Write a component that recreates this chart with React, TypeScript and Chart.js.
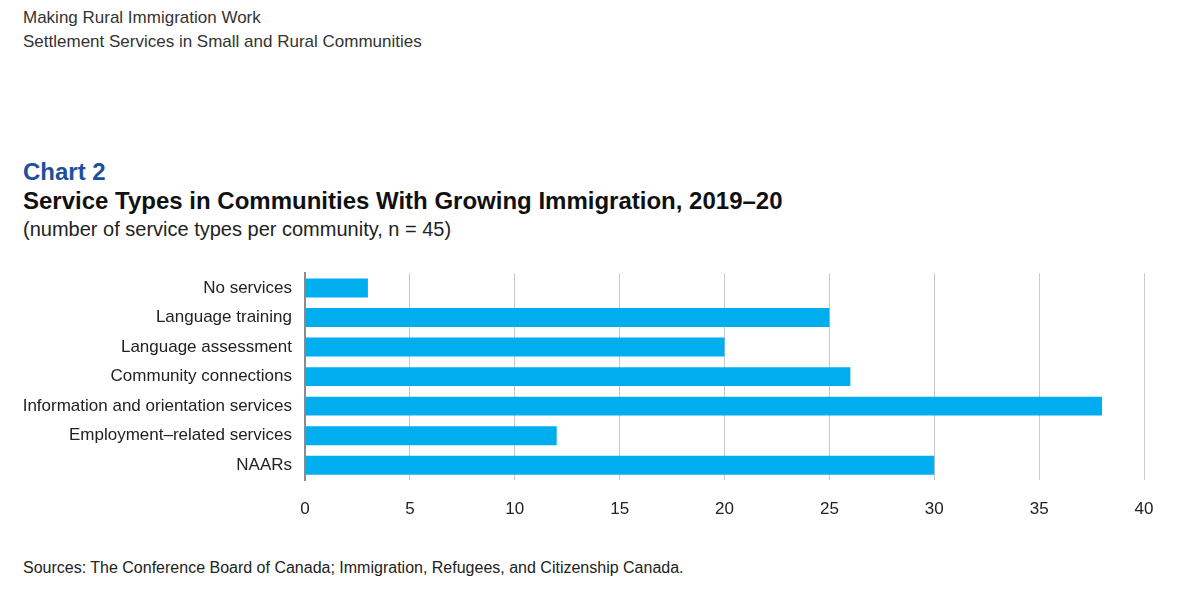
import React, { useEffect, useRef } from "react";
import { Chart, registerables } from "chart.js";

Chart.register(...registerables);

// Service types and the number of communities offering each
const categories: string[] = [
  "No services",
  "Language training",
  "Language assessment",
  "Community connections",
  "Information and orientation services",
  "Employment\u2013related services",
  "NAARs",
];
const communityCounts: number[] = [3, 25, 20, 26, 38, 12, 30];
const xTickValues: number[] = [0, 5, 10, 15, 20, 25, 30, 35, 40];

const FONT = '"Liberation Sans", Arial, Helvetica, sans-serif';

export default function App() {
  const canvasRef = useRef<HTMLCanvasElement | null>(null);

  useEffect(() => {
    const canvas = canvasRef.current;
    if (!canvas) return;
    const chart = new Chart(canvas, {
      type: "bar",
      data: {
        labels: categories,
        datasets: [
          {
            data: communityCounts,
            backgroundColor: "#00aeef",
            borderWidth: 0,
            barPercentage: 0.64,
            categoryPercentage: 1,
          },
        ],
      },
      options: {
        indexAxis: "y",
        responsive: false,
        maintainAspectRatio: false,
        animation: false,
        layout: { padding: { top: 4, right: 56, bottom: 10, left: 0 } },
        plugins: {
          legend: { display: false },
          tooltip: { enabled: false },
        },
        scales: {
          x: {
            min: 0,
            max: 40,
            afterBuildTicks: (axis: any) => {
              axis.ticks = xTickValues.map((v) => ({ value: v }));
            },
            afterFit: (axis: any) => {
              axis.height = 40;
            },
            grid: { color: "#c8c8c8", lineWidth: 1, drawTicks: false },
            border: { display: false },
            ticks: {
              padding: 19,
              color: "#222222",
              font: { family: FONT, size: 17 },
            },
          },
          y: {
            afterFit: (axis: any) => {
              axis.width = 305;
            },
            grid: { display: false, drawTicks: false },
            border: { display: true, color: "#8c8c8c", width: 2 },
            ticks: {
              padding: 13,
              color: "#222222",
              font: { family: FONT, size: 17 },
            },
          },
        },
      },
    });
    return () => chart.destroy();
  }, []);

  const text = (top: number, size: number, extra: React.CSSProperties = {}) =>
    ({
      position: "absolute",
      left: 23,
      top,
      fontFamily: FONT,
      fontSize: size,
      lineHeight: "20px",
      whiteSpace: "nowrap",
      color: "#333333",
      ...extra,
    }) as React.CSSProperties;

  return (
    <div
      style={{
        position: "absolute",
        left: 0,
        top: 0,
        width: 1200,
        height: 616,
        background: "#ffffff",
        overflow: "hidden",
      }}
    >
      <div style={text(8, 17)}>Making Rural Immigration Work</div>
      <div style={text(32, 17)}>Settlement Services in Small and Rural Communities</div>
      <div style={text(162, 24, { fontWeight: 700, color: "#1d4f9c" })}>Chart 2</div>
      <div style={text(191, 24, { fontWeight: 700, color: "#111111" })}>
        Service Types in Communities With Growing Immigration, 2019–20
      </div>
      <div style={text(219, 20, { color: "#222222" })}>
        (number of service types per community, n = 45)
      </div>
      <canvas
        ref={canvasRef}
        width={1200}
        height={280}
        style={{ position: "absolute", left: 0, top: 250, width: 1200, height: 280 }}
      />
      <div style={text(558, 16, { color: "#222222" })}>
        Sources: The Conference Board of Canada; Immigration, Refugees, and Citizenship Canada.
      </div>
    </div>
  );
}
